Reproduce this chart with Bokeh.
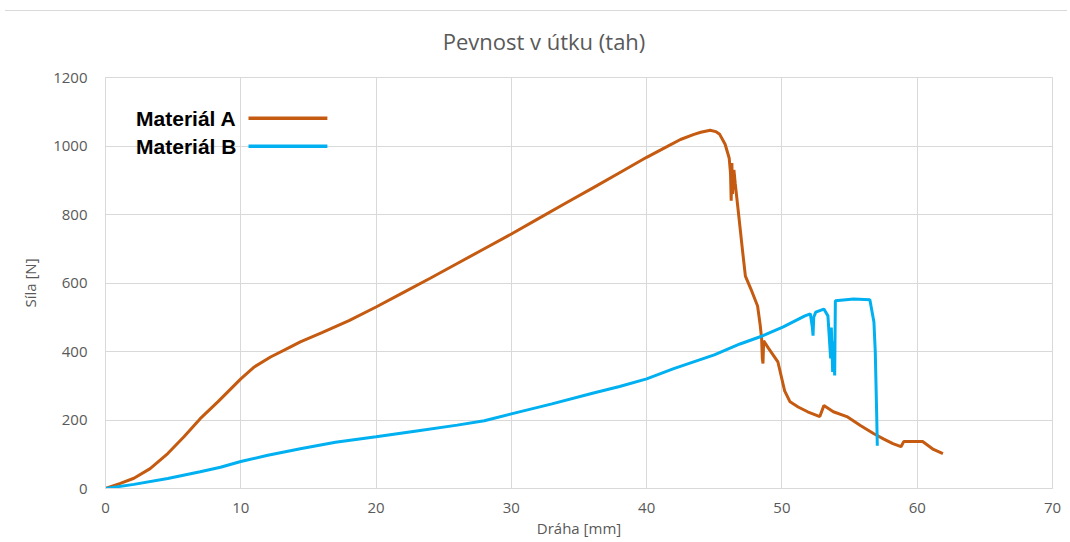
from bokeh.plotting import figure
from bokeh.models import FixedTicker, Label, Div
from bokeh.layouts import column
from bokeh.embed import file_html
from bokeh.resources import INLINE

# Material A (orange)
xa = [0, 1.1, 2.1, 3.3, 4.6, 5.8, 7.0, 8.3, 10.0, 11.0, 12.2, 13.5, 14.4, 16, 18, 20, 22, 24, 26, 28,
      30, 32, 34, 36, 38, 40, 41.5, 42.5, 43.5, 44.0, 44.7, 45.1, 45.4, 45.8, 46.1, 46.2, 46.25, 46.3,
      46.35, 46.45, 46.55, 46.8, 47.1, 47.3, 47.7, 48.2, 48.4, 48.5, 48.55, 48.6, 48.65, 49.0, 49.7,
      50.2, 50.6, 51.2, 51.9, 52.8, 53.1, 53.8, 54.8, 55.8, 56.8, 57.5, 58.2, 58.8, 59.0, 60.4, 61.2, 61.9]
ya = [0, 15, 30, 58, 102, 151, 204, 253, 320, 355, 384, 410, 428, 455, 490, 530, 572, 614, 657, 700,
      743, 788, 833, 877, 922, 967, 998, 1019, 1034, 1040, 1046, 1042, 1034, 1005, 965, 920, 840, 950,
      860, 930, 890, 800, 690, 620, 583, 533, 475, 437, 380, 365, 431, 410, 370,
      285, 253, 238, 224, 210, 242, 224, 210, 184, 160, 145, 131, 122, 137, 137, 114, 102]

# Material B (blue)
xb = [0, 2.1, 4.6, 7.0, 8.5, 10.0, 12, 14.4, 17, 20, 23, 26, 28, 30, 33, 36, 38, 40, 42, 45, 46.9,
      48.6, 50.1, 51.7, 52.1, 52.25, 52.3, 52.35, 52.5, 53.1, 53.4, 53.6, 53.65, 53.75, 53.8, 53.9,
      53.95, 55.3, 56.5, 56.8, 56.9, 57.0, 57.05]
yb = [0, 12, 29, 49, 62, 79, 97, 116, 135, 151, 168, 185, 198, 218, 247, 278, 298, 320, 350, 390, 422,
      446, 472, 504, 510, 470, 446, 500, 515, 524, 504, 380, 470, 340, 430, 330,
      548, 553, 551, 486, 399, 224, 125]

title_text = "Pevnost v útku (tah)"
series_names = ["Materiál A", "Materiál B"]
series_colors = ["#C55A11", "#00B0F0"]
x_ticks = [0, 10, 20, 30, 40, 50, 60, 70]
y_ticks = [0, 200, 400, 600, 800, 1000, 1200]

p = figure(width=1062, height=480, x_range=(0, 70), y_range=(0, 1200),
           output_backend="svg", toolbar_location=None,
           min_border_left=105, min_border_right=10, min_border_top=17, min_border_bottom=50)

p.outline_line_color = "#d9d9d9"
p.background_fill_color = "white"
p.border_fill_color = "white"

for ax in (p.xaxis, p.yaxis):
    ax.axis_line_color = "#d9d9d9"
    ax.major_tick_line_color = None
    ax.minor_tick_line_color = None
    ax.major_label_text_font = "Open Sans"
    ax.major_label_text_font_size = "15px"
    ax.major_label_text_color = "#595959"
    ax.axis_label_text_font = "Open Sans"
    ax.axis_label_text_font_size = "15px"
    ax.axis_label_text_font_style = "normal"
    ax.axis_label_text_color = "#595959"

p.xaxis.ticker = FixedTicker(ticks=x_ticks)
p.yaxis.ticker = FixedTicker(ticks=y_ticks)
p.xaxis.axis_label = "Dráha [mm]"
p.yaxis.axis_label = "Síla [N]"
p.xaxis.major_label_standoff = 8
p.xaxis.axis_label_standoff = 2
p.yaxis.major_label_standoff = 12
p.yaxis.axis_label_standoff = 10

p.grid.grid_line_color = "#d9d9d9"
p.grid.grid_line_width = 1

p.line(xa, ya, line_color=series_colors[0], line_width=3)
p.line(xb, yb, line_color=series_colors[1], line_width=3)

# custom legend (text left, line sample right)
leg_y = [1081, 999]
for name, col, yy in zip(series_names, series_colors, leg_y):
    p.add_layout(Label(x=9.68, y=yy, text=name, text_align="right", text_baseline="middle",
                       text_font="Liberation Sans", text_font_style="bold",
                       text_font_size="21px", text_color="black"))
    p.segment(x0=[10.57], y0=[yy], x1=[16.4], y1=[yy], line_color=col, line_width=3.5)

title_div = Div(text=title_text, width=1062, height=45,
                styles={"border-top": "1px solid #d9d9d9", "margin-top": "10px",
                        "text-align": "center", "font-family": "Open Sans",
                        "font-size": "22px", "color": "#595959",
                        "padding-top": "15px", "padding-left": "16px",
                        "box-sizing": "border-box"})

layout = column(title_div, p, spacing=0)
open("out.html", "w").write(file_html(layout, INLINE))
